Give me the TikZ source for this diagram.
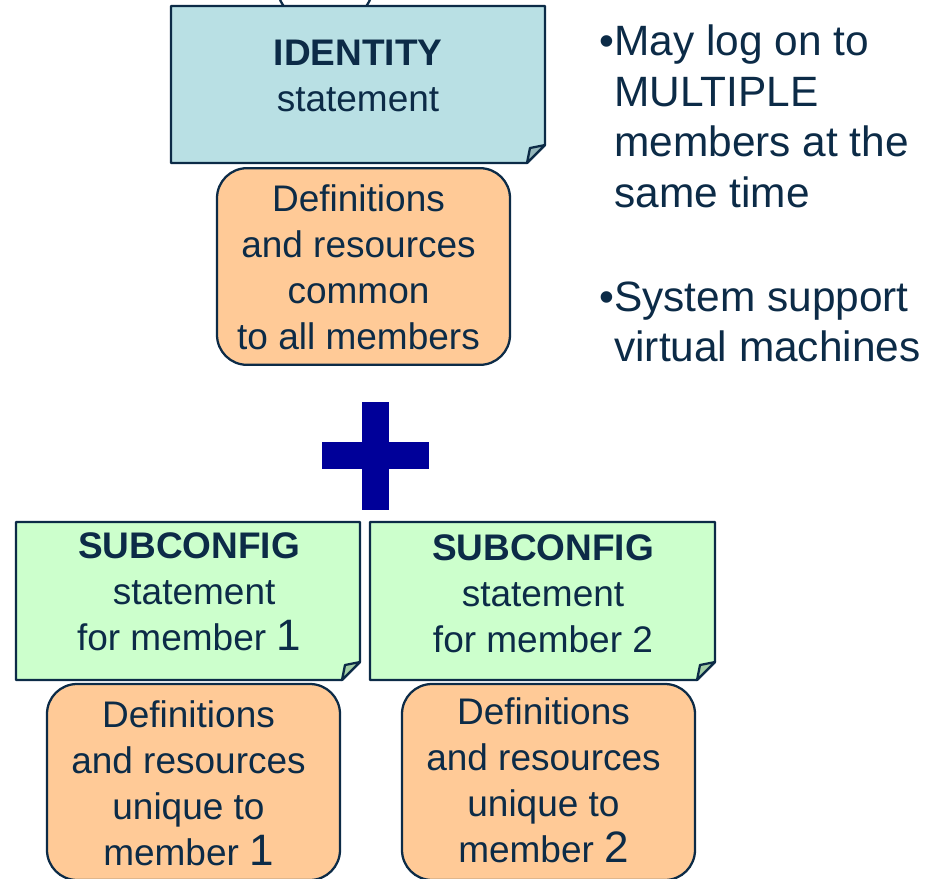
\documentclass[tikz,border=0pt]{standalone}
\usepackage{fontspec}
\setmainfont{Liberation Sans}
\usetikzlibrary{calc}
\definecolor{ink}{HTML}{0C2B47}
\definecolor{idfill}{HTML}{B9E0E4}
\definecolor{idfold}{HTML}{95B7BB}
\definecolor{subfill}{HTML}{CCFFCC}
\definecolor{subfold}{HTML}{A3CFA6}
\definecolor{deffill}{HTML}{FFCA97}
\definecolor{plusblue}{HTML}{000099}
\newcommand{\boxfont}{\fontsize{27.75}{34.5}\selectfont}
\newcommand{\bigdigit}[1]{{\fontsize{33}{34.5}\selectfont #1}}
\begin{document}
\begin{tikzpicture}[x=0.75pt,y=-0.75pt,
  frame/.style={rectangle, inner sep=0pt, outer sep=0pt},
  edge/.style={draw=ink, line width=1.7pt, line join=round},
  boxtext/.style={text=ink, font=\boxfont, align=center, inner sep=0pt},
  defbox/.style={frame, edge, fill=deffill, rounded corners=22.5pt,
    minimum width=219.75pt, minimum height=147.5pt},
  bullettext/.style={text=ink, font=\fontsize{31.8}{37.5}\selectfont,
    anchor=base west, inner sep=0pt}]
\useasboundingbox (0,0) rectangle (940,879);

% rim of a shape tucked behind the identity card
\draw[edge, fill=white] (325,-22) circle [radius=50];

% sticky-note card with a folded bottom-right corner
\newcommand{\dogear}[3]{%
  \path[edge, fill=#2] (#1.north west) -- (#1.north east)
    -- ($(#1.south east)+(0,-18)$) -- ($(#1.south east)+(-18,0)$)
    -- (#1.south west) -- cycle;
  \path[edge, fill=#3] ($(#1.south east)+(-18,0)$)
    -- ($(#1.south east)+(-15,-15)$) -- ($(#1.south east)+(0,-18)$) -- cycle;}

% IDENTITY statement
\node[frame, minimum width=280.5pt, minimum height=117.75pt] (identity) at (358,84.5) {};
\dogear{identity}{idfill}{idfold}
\node[boxtext] (identitytext) at (358,76) {\textbf{IDENTITY}\\statement};

\node[defbox] (common) at (363.5,266.5) {};
\node[boxtext] (commontext) at (358.5,267)
  {Definitions\\and resources\\common\\to all members};

% plus sign
\fill[plusblue] (362,402) rectangle (389,510);
\fill[plusblue] (322,442) rectangle (429,469);

% SUBCONFIG statements
\node[frame, minimum width=258pt, minimum height=118.5pt] (sub1) at (188,601) {};
\dogear{sub1}{subfill}{subfold}
\node[boxtext] (sub1text) at (189,592) {\textbf{SUBCONFIG}\\\ statement\\for member \bigdigit{1}};

\node[frame, minimum width=258.75pt, minimum height=118.5pt] (sub2) at (542.5,601) {};
\dogear{sub2}{subfill}{subfold}
\node[boxtext] (sub2text) at (543,594) {\textbf{SUBCONFIG}\\statement\\for member 2};

\node[defbox, minimum height=147pt] (unique1) at (193.5,782) {};
\node[boxtext] (unique1text) at (188.5,783)
  {Definitions\\and resources\\unique to\\member \bigdigit{1}};
\node[defbox, minimum height=147pt] (unique2) at (548.5,782) {};
\node[boxtext] (unique2text) at (543.5,780)
  {Definitions\\and resources\\unique to\\member \bigdigit{2}};

% notes beside the diagram
\node[bullettext] (n1) at (614,55) {\llap{•}May log on to};
\node[bullettext] (n2) at (614,106) {MULTIPLE};
\node[bullettext] (n3) at (614,156) {members at the};
\node[bullettext] (n4) at (614,207) {same time};
\node[bullettext] (n5) at (614,311) {\llap{•}System support};
\node[bullettext] (n6) at (614,361) {virtual machines};
\end{tikzpicture}
\end{document}
